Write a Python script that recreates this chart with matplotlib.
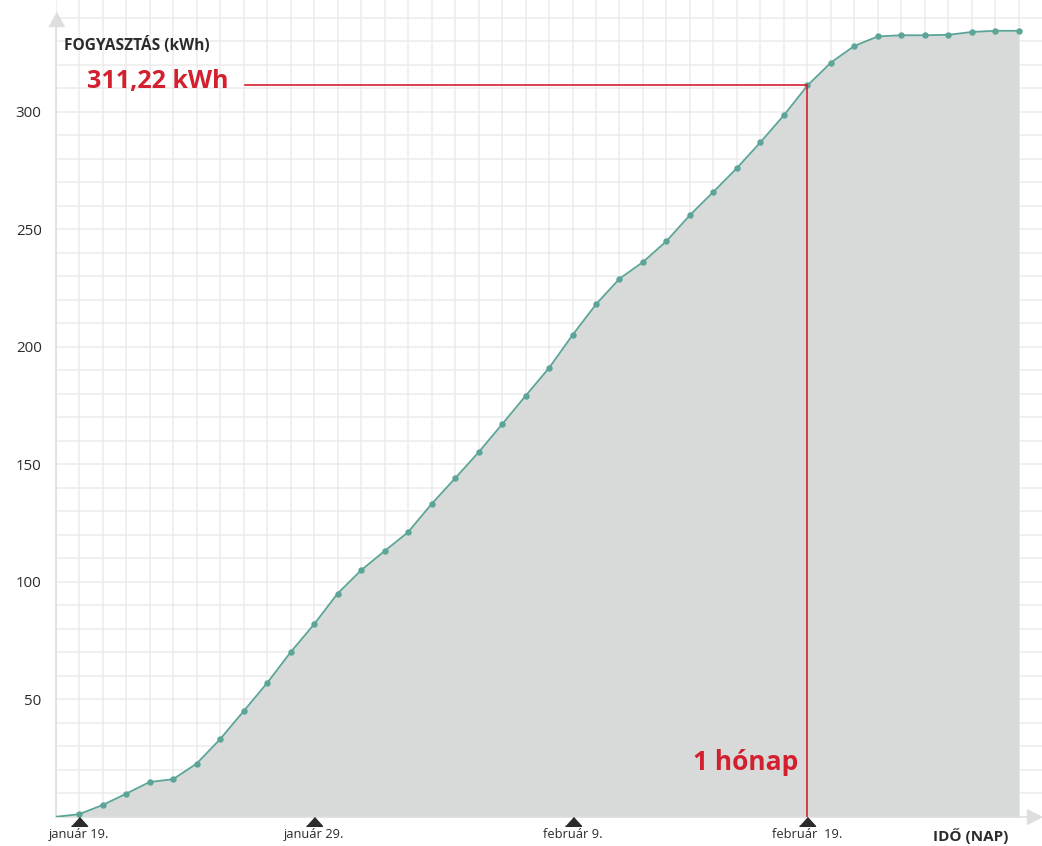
import matplotlib
matplotlib.use("Agg")
import matplotlib.pyplot as plt

# days counted from január 19. (day 0); day -1 is the starting point
days = list(range(-1, 41))
kwh = [0, 1.1, 5.0, 9.8, 14.8, 16.0, 22.6, 33.0, 44.9, 56.9,
       70.0, 81.9, 95.0, 104.9, 113.1, 121.1, 133.1, 144.0, 155.1, 167.0,
       179.1, 191.0, 205.0, 218.1, 229.0, 236.1, 245.0, 256.1, 266.0, 276.1,
       287.1, 298.6, 311.22, 321.0, 328.1, 332.1, 332.6, 332.6, 332.8, 334.0,
       334.5, 334.5]

tick_days = [0, 10, 21, 31]
tick_labels = ["január 19.", "január 29.", "február 9.", "február  19."]
y_ticks = [50, 100, 150, 200, 250, 300]

mark_day = 31          # 1 hónap
mark_label = "311,22 kWh"

RED = "#d3202f"
TEAL = "#5ba598"
FILL = "#d8dad9"
GRID = "#ececec"
AXIS = "#dedede"
DARK = "#2b2b2b"

plt.rcParams["font.family"] = ["Open Sans", "DejaVu Sans"]

fig = plt.figure(figsize=(10.42, 8.46), dpi=100)
ax = fig.add_axes([0.0533, 0.0345, 0.9467, 0.9655])
ax.set_xlim(-1, 40.98)
ax.set_ylim(0, 347.6)

# background grid: one line per day, one per 10 kWh
ax.set_xticks(days, minor=True)
ax.set_yticks(range(10, 350, 10), minor=True)
ax.grid(True, which="both", color=GRID, linewidth=1.1)
ax.set_axisbelow(True)

# area + line
ax.fill_between(days, kwh, 0, color=FILL, linewidth=0, zorder=2)
ax.plot(days, kwh, color=TEAL, linewidth=1.3, zorder=3)
ax.plot(days[1:], kwh[1:], linestyle="none", marker="o", markersize=3.6,
        color=TEAL, zorder=4)

# axes lines with arrow heads
for side in ["top", "right"]:
    ax.spines[side].set_visible(False)
ax.spines["left"].set_color(AXIS)
ax.spines["bottom"].set_color(AXIS)
ax.spines["left"].set_linewidth(1.2)
ax.spines["bottom"].set_linewidth(1.2)
ax.spines["left"].set_bounds(0, 336.5)
ax.spines["bottom"].set_bounds(-1, 40.34)
ax.plot([40.34], [0], marker=[(0, -0.5), (0, 0.5), (1, 0)], markersize=21.6,
        color=AXIS, clip_on=False, zorder=5)
ax.plot([-1], [336.5], marker=[(-0.55, 0), (0.55, 0), (0, 1)], markersize=20.2,
        color=AXIS, clip_on=False, zorder=5)

# ticks
ax.set_xticks(tick_days, tick_labels)
ax.set_yticks(y_ticks, [str(v) for v in y_ticks])
ax.tick_params(axis="both", which="both", length=0)
ax.tick_params(axis="x", pad=8, labelsize=9.3, labelcolor=DARK)
ax.tick_params(axis="y", pad=10, labelsize=10.8, labelcolor=DARK)
ax.plot(tick_days, [0] * len(tick_days), linestyle="none",
        marker=[(-1, -1.1), (1, -1.1), (0, 0)], markersize=12.7,
        color=DARK, clip_on=False, zorder=6)

# one month marker
val = kwh[days.index(mark_day)]
ax.plot([7.05, mark_day], [val, val], color=RED, linewidth=1.2, zorder=5)
ax.plot([mark_day, mark_day], [0, val], color=RED, linewidth=1.2, zorder=5)
ax.annotate(mark_label, xy=(7.05, val), xytext=(-12, 3), textcoords="offset points",
            ha="right", va="center", color=RED, fontsize=18, fontweight="bold")
ax.annotate("1 hónap", xy=(mark_day, 23.3), xytext=(-7, 0), textcoords="offset points",
            ha="right", va="center", color=RED, fontsize=19, fontweight="bold")

# axis titles
fig.text(64 / 1042, 1 - 45 / 846, "FOGYASZTÁS (kWh)", ha="left", va="center",
         fontsize=11.2, fontweight="bold", color=DARK)
fig.text(1008 / 1042, 1 - 836 / 846, "IDŐ (NAP)", ha="right", va="center",
         fontsize=11, fontweight="bold", color=DARK)

fig.savefig("out.png", dpi=100)
